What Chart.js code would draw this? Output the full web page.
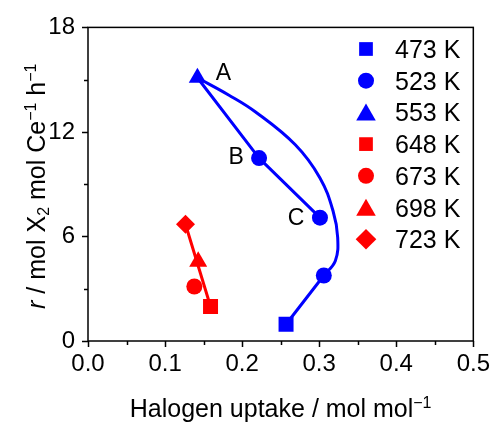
<!DOCTYPE html>
<html><head><meta charset="utf-8">
<script src="https://cdn.jsdelivr.net/npm/chart.js@4.4.1/dist/chart.umd.min.js"></script>
<style>html,body{margin:0;padding:0;background:#fff}#wrap{width:499px;height:428px}</style>
</head><body><div id="wrap"><canvas id="c" width="499" height="428"></canvas></div>
<script>
// ---- data ----
const seriesNames = ['473 K','523 K','553 K','648 K','673 K','698 K','723 K'];
const s473x = [0.257],              s473y = [0.96];
const s523x = [0.222, 0.301, 0.306], s523y = [10.50, 7.08, 3.76];
const s553x = [0.142],              s553y = [15.11];
const s648x = [0.159],              s648y = [1.98];
const s673x = [0.138],              s673y = [3.13];
const s698x = [0.143],              s698y = [4.56];
const s723x = [0.1265],             s723y = [6.70];
// guide lines
const pathX  = [0.142, 0.222, 0.301];  const pathY  = [15.11, 10.50, 7.08];
const curveX = [0.142, 0.183, 0.217, 0.269, 0.301, 0.318, 0.324, 0.321, 0.306];
const curveY = [15.11, 14.11, 13.16, 11.26, 9.36, 7.46, 5.94, 4.61, 3.76];
const tailX  = [0.306, 0.257];         const tailY  = [3.76, 0.96];
const redX   = [0.1265, 0.159];        const redY   = [6.70, 1.98];
const pointLabels = ['A', 'B', 'C'];
const xTickLabels = ['0.0','0.1','0.2','0.3','0.4','0.5'];
const yTickLabels = ['0','6','12','18'];

const pts = (xs, ys) => xs.map((x, i) => ({x, y: ys[i]}));
const BLUE = '#0000ff', RED = '#ff0000';
const FONT = 'Liberation Sans, Arial, sans-serif';

function lineDs(xs, ys, color, tension) {
  return {data: pts(xs, ys), showLine: true, borderColor: color, borderWidth: 3,
          pointRadius: 0, tension: tension || 0, order: 5, fill: false, legend: false};
}
function markDs(name, xs, ys, color, style, r) {
  return {label: name, data: pts(xs, ys), showLine: false, backgroundColor: color,
          borderColor: color, borderWidth: 0, pointStyle: style, pointRadius: r,
          order: 1, legend: true};
}

const datasets = [
  lineDs(pathX, pathY, BLUE),
  lineDs(curveX, curveY, BLUE, 0.4),
  lineDs(tailX, tailY, BLUE),
  lineDs(redX, redY, RED),
  markDs(seriesNames[0], s473x, s473y, BLUE, 'rect', 10.6),
  markDs(seriesNames[1], s523x, s523y, BLUE, 'circle', 8),
  markDs(seriesNames[2], s553x, s553y, BLUE, 'triangle', 10),
  markDs(seriesNames[3], s648x, s648y, RED, 'rect', 10.6),
  markDs(seriesNames[4], s673x, s673y, RED, 'circle', 8),
  markDs(seriesNames[5], s698x, s698y, RED, 'triangle', 10.4),
  markDs(seriesNames[6], s723x, s723y, RED, 'rectRot', 9.5)
];

function drawMarker(ctx, style, x, y, r, color) {
  ctx.fillStyle = color;
  ctx.beginPath();
  if (style === 'rect') {
    const s = Math.SQRT1_2 * r; ctx.rect(x - s, y - s, 2 * s, 2 * s);
  } else if (style === 'circle') {
    ctx.arc(x, y, r, 0, Math.PI * 2);
  } else if (style === 'triangle') {
    ctx.moveTo(x, y - r); ctx.lineTo(x + 0.866 * r, y + 0.5 * r); ctx.lineTo(x - 0.866 * r, y + 0.5 * r); ctx.closePath();
  } else if (style === 'rectRot') {
    ctx.moveTo(x, y - r); ctx.lineTo(x + r, y); ctx.lineTo(x, y + r); ctx.lineTo(x - r, y); ctx.closePath();
  }
  ctx.fill();
}

function drawRich(ctx, parts, x, y, align) {
  let w = 0;
  parts.forEach(p => { ctx.font = p.font; p.w = ctx.measureText(p.t).width; w += p.w; });
  let cx = align === 'center' ? x - w / 2 : x;
  parts.forEach(p => { ctx.font = p.font; ctx.fillText(p.t, cx, y - (p.dy || 0)); cx += p.w; });
}

const isMult = (v, m) => Math.abs(v / m - Math.round(v / m)) < 1e-6;

const deco = {
  id: 'deco',
  afterDraw(chart) {
    const ctx = chart.ctx, a = chart.chartArea, xs = chart.scales.x, ys = chart.scales.y;
    ctx.save();
    ctx.strokeStyle = '#000'; ctx.lineWidth = 1.5;
    ctx.strokeRect(a.left, a.top, a.right - a.left, a.bottom - a.top);
    ctx.beginPath();
    xs.ticks.forEach(t => {
      const px = Math.round(xs.getPixelForValue(t.value)) + 0.5;
      const len = isMult(t.value, 0.1) ? 6 : 4;
      ctx.moveTo(px, a.bottom); ctx.lineTo(px, a.bottom + len);
    });
    ys.ticks.forEach(t => {
      const py = Math.round(ys.getPixelForValue(t.value)) + 0.5;
      const len = isMult(t.value, 6) ? 6 : 4;
      ctx.moveTo(a.left, py); ctx.lineTo(a.left - len, py);
    });
    ctx.stroke();

    ctx.fillStyle = '#000';
    ctx.textBaseline = 'alphabetic';
    const big = '25px ' + FONT, small = '16px ' + FONT, ital = 'italic 25px ' + FONT;
    // x title
    drawRich(ctx, [
      {t: 'Halogen uptake / mol mol', font: big},
      {t: '\u22121', font: small, dy: 9}
    ], (a.left + a.right) / 2, 417, 'center');
    // y title
    ctx.save();
    ctx.translate(45, (a.top + a.bottom) / 2 + 2);
    ctx.rotate(-Math.PI / 2);
    drawRich(ctx, [
      {t: 'r', font: ital},
      {t: ' / mol X', font: big},
      {t: '2', font: small, dy: -4},
      {t: ' mol Ce', font: big},
      {t: '\u22121', font: small, dy: 9},
      {t: ' h', font: big},
      {t: '\u22121', font: small, dy: 9}
    ], 0, 0, 'center');
    ctx.restore();

    // point labels A, B, C
    ctx.font = '23px ' + FONT; ctx.textAlign = 'center'; ctx.textBaseline = 'middle';
    const pA = {x: xs.getPixelForValue(s553x[0]), y: ys.getPixelForValue(s553y[0])};
    const pB = {x: xs.getPixelForValue(s523x[0]), y: ys.getPixelForValue(s523y[0])};
    const pC = {x: xs.getPixelForValue(s523x[1]), y: ys.getPixelForValue(s523y[1])};
    ctx.fillText(pointLabels[0], pA.x + 26, pA.y - 4);
    ctx.fillText(pointLabels[1], pB.x - 23, pB.y);
    ctx.fillText(pointLabels[2], pC.x - 24, pC.y + 1);

    // legend
    ctx.textAlign = 'left'; ctx.textBaseline = 'alphabetic'; ctx.font = '25px ' + FONT;
    const legendItems = chart.data.datasets.filter(d => d.legend);
    legendItems.forEach((d, i) => {
      const y = 49 + i * 31.7;
      let my = y, r = d.pointRadius;
      if (d.pointStyle === 'triangle') { r = 11.3; my = y + 2.5; }
      if (d.pointStyle === 'rect') r = 9.7;
      if (d.pointStyle === 'rectRot') r = 10.3;
      drawMarker(ctx, d.pointStyle, 366, my, r, d.backgroundColor);
      ctx.fillStyle = '#000';
      ctx.fillText(d.label, 395, y + 9);
    });
    ctx.restore();
  }
};

new Chart(document.getElementById('c'), {
  type: 'scatter',
  data: {datasets},
  plugins: [deco],
  options: {
    responsive: false, animation: false, devicePixelRatio: 1,
    layout: {padding: {left: 0, right: 23, top: 25, bottom: 0}},
    plugins: {legend: {display: false}, tooltip: {enabled: false}},
    elements: {line: {borderCapStyle: 'round', borderJoinStyle: 'round'}},
    scales: {
      x: {
        type: 'linear', min: 0, max: 0.5,
        afterFit: s => { s.height = 87; },
        grid: {display: false, drawTicks: false},
        border: {display: false},
        ticks: {stepSize: 0.05, autoSkip: false, maxRotation: 0, padding: 9,
                color: '#000', font: {family: FONT, size: 24},
                callback: v => isMult(v, 0.1) ? xTickLabels[Math.round(v * 10)] : ''}
      },
      y: {
        type: 'linear', min: 0, max: 18,
        afterFit: s => { s.width = 88; },
        grid: {display: false, drawTicks: false},
        border: {display: false},
        ticks: {stepSize: 3, autoSkip: false, padding: 13,
                color: '#000', font: {family: FONT, size: 24},
                callback: v => isMult(v, 6) ? yTickLabels[Math.round(v / 6)] : ''}
      }
    }
  }
});
</script>
</body></html>
